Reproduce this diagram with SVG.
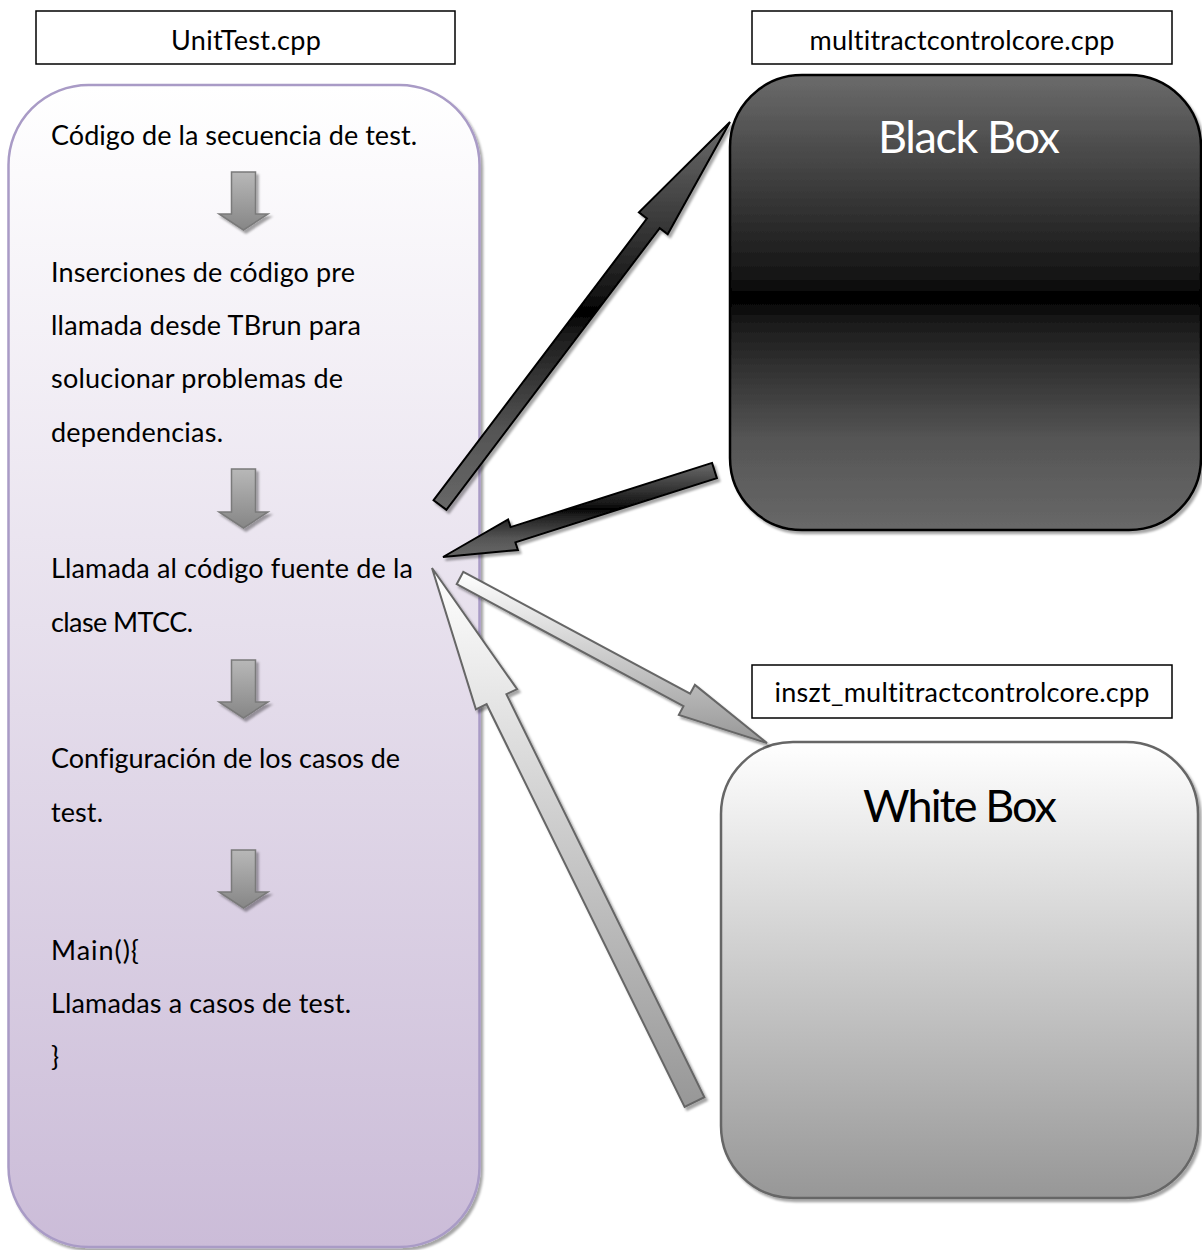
<svg xmlns="http://www.w3.org/2000/svg" width="1202" height="1250" viewBox="0 0 1202 1250">
<defs>
  <linearGradient id="gLeft" x1="0" y1="0" x2="0" y2="1">
    <stop offset="0" stop-color="#ffffff"/>
    <stop offset="1" stop-color="#cbbcd8"/>
  </linearGradient>
  <linearGradient id="gBlack" x1="0" y1="0" x2="0" y2="1">
    <stop offset="0" stop-color="#6b6b6b"/>
    <stop offset="0.44" stop-color="#161616"/>
    <stop offset="0.49" stop-color="#000000"/>
    <stop offset="0.55" stop-color="#1c1c1c"/>
    <stop offset="0.8" stop-color="#555555"/>
    <stop offset="1" stop-color="#686868"/>
  </linearGradient>
  <linearGradient id="gWhite" x1="0" y1="0" x2="0" y2="1">
    <stop offset="0" stop-color="#ffffff"/>
    <stop offset="1" stop-color="#979797"/>
  </linearGradient>
  <linearGradient id="gSmall" x1="0" y1="0" x2="0" y2="1">
    <stop offset="0" stop-color="#b8b8b8"/>
    <stop offset="1" stop-color="#868686"/>
  </linearGradient>
  <filter id="sh" x="-10%" y="-10%" width="130%" height="130%">
    <feDropShadow dx="2.5" dy="3" stdDeviation="0.8" flood-color="#000" flood-opacity="0.35"/>
  </filter>
  <style>
    .lbl { fill:#ffffff; stroke:#000000; stroke-width:1.5; }
    .t { font-family:"Lato","Open Sans",sans-serif; font-size:27px; fill:#000000; font-variant-ligatures:none; font-feature-settings:"liga" 0, "clig" 0; }
    .big { font-family:"Lato","Open Sans",sans-serif; font-size:45px; font-variant-ligatures:none; font-feature-settings:"liga" 0, "clig" 0; }
    .dark { stroke:#000000; stroke-width:2; stroke-linejoin:miter; fill:url(#gBlack); filter:url(#sh); }
    .light { stroke:#666666; stroke-width:2; stroke-linejoin:miter; fill:url(#gWhite); filter:url(#sh); }
    .small { stroke:#7a7a7a; stroke-width:1.5; fill:url(#gSmall); filter:url(#sh); }
  </style>
</defs>
<rect width="1202" height="1250" fill="#ffffff"/>

<g id="label-unittest">
  <rect class="lbl" x="36" y="11" width="419" height="53"/>
  <text class="t" x="246" y="50" text-anchor="middle" textLength="150">UnitTest.cpp</text>
</g>
<g id="label-mtcc">
  <rect class="lbl" x="752" y="11" width="420" height="53"/>
  <text class="t" x="962" y="50" text-anchor="middle" textLength="305">multitractcontrolcore.cpp</text>
</g>
<g id="label-inszt">
  <rect class="lbl" x="752" y="665" width="420" height="53"/>
  <text class="t" x="962" y="702" text-anchor="middle" textLength="375">inszt_multitractcontrolcore.cpp</text>
</g>

<g id="unittest-box">
  <rect x="8.5" y="85" width="471" height="1162" rx="80" ry="80" fill="url(#gLeft)" stroke="#a99bc6" stroke-width="2.5" filter="url(#sh)"/>
  <text class="t" x="51" y="145" textLength="366">Código de la secuencia de test.</text>
  <text class="t" x="51" y="282" textLength="304">Inserciones de código pre</text>
  <text class="t" x="51" y="335" textLength="310">llamada desde TBrun para</text>
  <text class="t" x="51" y="388" textLength="292">solucionar problemas de</text>
  <text class="t" x="51" y="442" textLength="172">dependencias.</text>
  <text class="t" x="51" y="578" textLength="362">Llamada al código fuente de la</text>
  <text class="t" x="51" y="632" textLength="142">clase MTCC.</text>
  <text class="t" x="51" y="768" textLength="349">Configuración de los casos de</text>
  <text class="t" x="51" y="822" textLength="52">test.</text>
  <text class="t" x="51" y="960" textLength="88">Main(){</text>
  <text class="t" x="51" y="1013" textLength="300">Llamadas a casos de test.</text>
  <text class="t" x="51" y="1066">}</text>
  <g id="step-arrows">
    <path class="small" d="M231.5,172 h24 v42 h12.5 l-24.5,16 l-24.5,-16 h12.5 z"/>
    <path class="small" d="M231.5,469 h24 v43 h12.5 l-24.5,16 l-24.5,-16 h12.5 z"/>
    <path class="small" d="M231.5,660 h24 v42 h12.5 l-24.5,16 l-24.5,-16 h12.5 z"/>
    <path class="small" d="M231.5,850 h24 v42 h12.5 l-24.5,16 l-24.5,-16 h12.5 z"/>
  </g>
</g>

<g id="black-box">
  <rect x="730" y="75" width="471" height="455" rx="72" ry="72" fill="url(#gBlack)" stroke="#000000" stroke-width="2.5" filter="url(#sh)"/>
  <text class="big" x="969" y="153" text-anchor="middle" fill="#ffffff" textLength="182">Black Box</text>
</g>

<g id="white-box">
  <rect x="721" y="742" width="477" height="456" rx="72" ry="72" fill="url(#gWhite)" stroke="#666666" stroke-width="2.5" filter="url(#sh)"/>
  <text class="big" x="960" y="822" text-anchor="middle" fill="#000000" textLength="194">White Box</text>
</g>

<g id="connectors">
  <polygon class="dark" points="433.6,500.2 646.9,218.5 638.9,212.4 730,122 667.7,234.2 659.7,228.1 446.4,509.8"/>
  <polygon class="dark" points="712.1,462.9 510.6,527.1 508.1,519.5 443,557 517.9,550 515.4,542.3 716.9,478.1"/>
  <polygon class="light" points="463.3,571.8 690.1,693.7 694.9,684.9 767,743 678.8,714.9 683.5,706.1 456.7,584.2"/>
  <polygon class="light" points="684.6,1106.9 486.6,704.2 475.9,709.4 432,568 517.1,689.2 506.4,694.2 704.4,1097.2"/>
</g>
</svg>
